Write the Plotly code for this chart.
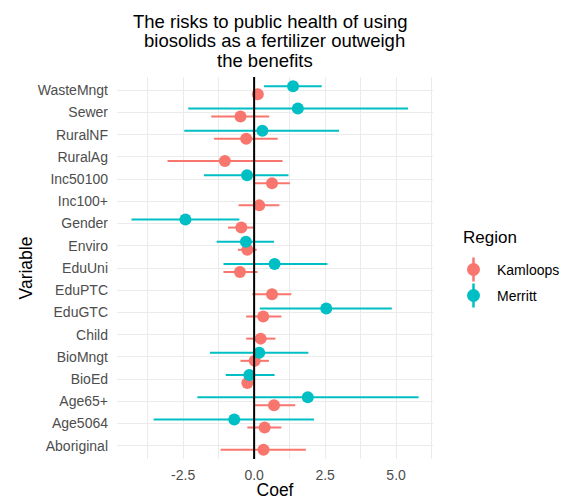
import plotly.graph_objects as go

# Regression coefficients with 95% intervals, by region
variables = ["Aboriginal", "Age5064", "Age65+", "BioEd", "BioMngt", "Child",
             "EduGTC", "EduPTC", "EduUni", "Enviro", "Gender", "Inc100+",
             "Inc50100", "RuralAg", "RuralNF", "Sewer", "WasteMngt"]

kam_est = [0.33, 0.37, 0.70, -0.24, 0.02, 0.23, 0.32, 0.63, -0.50, -0.24, -0.45, 0.18,
           0.63, -1.03, -0.28, -0.48, 0.13]
kam_lo = [-1.18, -0.24, 0.02, -0.42, -0.48, -0.28, -0.28, -0.06, -1.08, -0.57, -0.92, -0.55,
          0.02, -3.05, -1.41, -1.51, 0.05]
kam_hi = [1.82, 0.96, 1.45, -0.04, 0.52, 0.75, 0.96, 1.31, 0.12, 0.09, -0.04, 0.89,
          1.26, 1.00, 0.83, 0.53, 0.21]

mer_est = [None, -0.70, 1.89, -0.17, 0.18, None, 2.54, None, 0.72, -0.29, -2.42, None,
           -0.25, None, 0.29, 1.54, 1.37]
mer_lo = [None, -3.54, -2.00, -1.00, -1.56, None, 0.20, None, -1.08, -1.32, -4.32, None,
          -1.77, None, -2.46, -2.32, 0.35]
mer_hi = [None, 2.11, 5.79, 0.72, 1.91, None, 4.85, None, 2.58, 0.70, -0.52, None,
          1.21, None, 2.99, 5.42, 2.38]

regions = ["Kamloops", "Merritt"]
colors = {"Kamloops": "#F8766D", "Merritt": "#00BFC4"}
dodge = {"Kamloops": -0.18, "Merritt": 0.18}

title_lines = ["The risks to public health of using",
               "biosolids as a fertilizer outweigh",
               "the benefits"]

x_ticks = [-2.5, 0.0, 2.5, 5.0]
x_minor = [-3.75, -1.25, 1.25, 3.75, 6.25]

fig = go.Figure()

series = {
    "Kamloops": (kam_est, kam_lo, kam_hi),
    "Merritt": (mer_est, mer_lo, mer_hi),
}

for reg in regions:
    est, lo, hi = series[reg]
    xs, ys, plus, minus = [], [], [], []
    for i, (e, l, h) in enumerate(zip(est, lo, hi)):
        if e is None:
            continue
        xs.append(e)
        ys.append(i + 1 + dodge[reg])
        plus.append(h - e)
        minus.append(e - l)
    fig.add_trace(go.Scatter(
        x=xs, y=ys, mode="markers", name=reg, showlegend=False,
        marker=dict(color=colors[reg], size=12, line=dict(width=0)),
        error_x=dict(type="data", symmetric=False, array=plus, arrayminus=minus,
                     color=colors[reg], thickness=2, width=0),
    ))

# reference line at zero drawn over the points
fig.add_shape(type="line", xref="x", yref="paper", x0=0, x1=0, y0=0, y1=1,
              line=dict(color="black", width=2), layer="above")

# plot-area geometry in pixels, used to place title and legend in paper units
W, H = 564, 500
ML, MR, MT, MB = 117, 131, 77, 41
pw, ph = W - ML - MR, H - MT - MB


def px_x(x):
    return (x - ML) / pw


def px_y(y):
    return (H - MB - y) / ph


# three-line title
for line, cx, cy in zip(title_lines, [270.5, 274, 264.5], [21, 40.5, 60]):
    fig.add_annotation(text=line, xref="paper", yref="paper", x=px_x(cx), y=px_y(cy),
                       xanchor="center", yanchor="middle", showarrow=False,
                       font=dict(size=18.5, color="black"))

# legend: point-range keys with labels
fig.add_annotation(text="Region", xref="paper", yref="paper", x=px_x(461), y=px_y(237),
                   xanchor="left", yanchor="middle", showarrow=False,
                   font=dict(size=17, color="black"))
for reg, ky in zip(regions, [269.5, 295.5]):
    kx = px_x(473.5)
    fig.add_shape(type="line", xref="paper", yref="paper", x0=kx, x1=kx,
                  y0=px_y(ky - 12), y1=px_y(ky + 12),
                  line=dict(color=colors[reg], width=2.5))
    fig.add_shape(type="circle", xref="paper", yref="paper", xsizemode="pixel",
                  ysizemode="pixel", xanchor=kx, yanchor=px_y(ky),
                  x0=-6.5, x1=6.5, y0=-6.5, y1=6.5,
                  fillcolor=colors[reg], line=dict(width=0))
    fig.add_annotation(text=reg, xref="paper", yref="paper", x=px_x(495), y=px_y(ky),
                       xanchor="left", yanchor="middle", showarrow=False,
                       font=dict(size=14, color="black"))

grid = "#EBEBEB"
fig.update_layout(
    width=W, height=H,
    margin=dict(l=ML, r=MR, t=MT, b=MB),
    plot_bgcolor="white", paper_bgcolor="white",
    font=dict(family="Liberation Sans, Arial, sans-serif", color="#4D4D4D"),
    showlegend=False,
    xaxis=dict(
        range=[-4.83, 6.30], tickvals=x_ticks,
        ticktext=[f"{v:.1f}" for v in x_ticks], automargin=False,
        showgrid=True, gridcolor=grid, gridwidth=1.4, zeroline=False,
        showline=False, ticks="", ticklabelstandoff=6,
        tickfont=dict(size=14, color="#4D4D4D"),
        minor=dict(tickvals=x_minor, showgrid=True, gridcolor=grid, gridwidth=0.7),
        title=dict(text="Coef", font=dict(size=17.5, color="black"), standoff=5),
    ),
    yaxis=dict(
        range=[0.4, 17.6], tickvals=list(range(1, len(variables) + 1)),
        ticktext=variables, automargin=False,
        showgrid=True, gridcolor=grid, gridwidth=1.4,
        zeroline=False, showline=False, ticks="", ticklabelstandoff=8,
        tickfont=dict(size=14, color="#4D4D4D"),
        title=dict(text="Variable", font=dict(size=17.5, color="black"), standoff=0),
    ),
)

fig.write_html("out.html")
